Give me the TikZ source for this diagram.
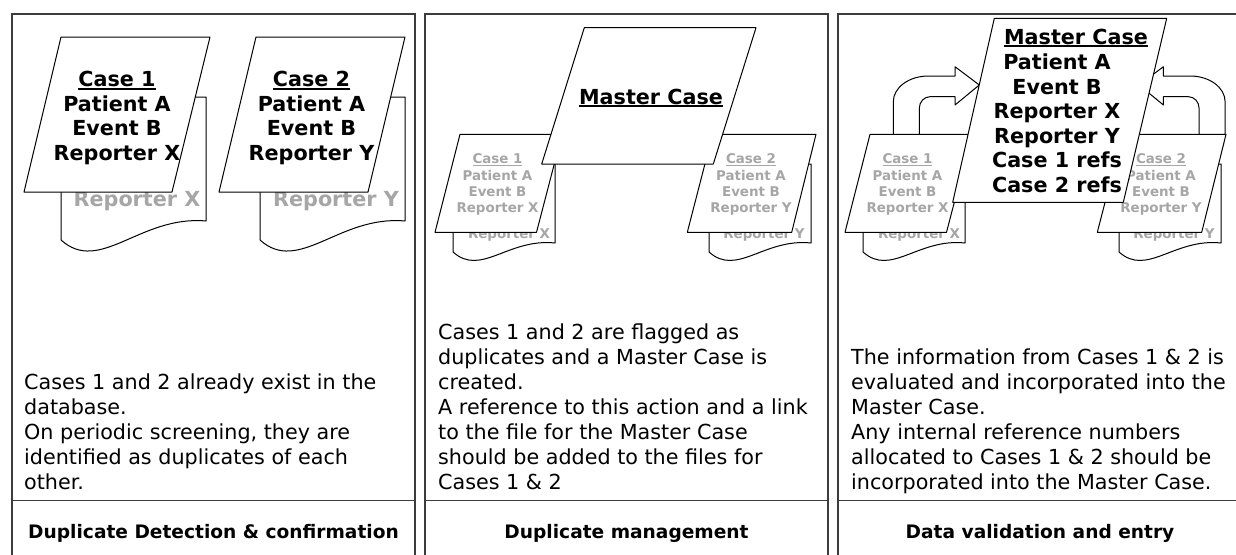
\documentclass[tikz,border=0pt]{standalone}
\usepackage{fontspec}
\setmainfont{DejaVu Sans}
\usepackage{tikz}
\definecolor{paleink}{RGB}{166,166,166}
\definecolor{frameink}{RGB}{60,60,60}
\newcommand{\casehead}[1]{\sbox0{#1}\rlap{\rule[-0.14em]{\wd0}{0.075em}}\usebox0}
\tikzset{
	panel/.style={draw=frameink, line width=1.2pt},
	sheet/.style={draw=black, fill=white, line width=1pt, line join=round},
	bigbold/.style={font=\bfseries\fontsize{20.7}{24.5}\selectfont, align=center, inner sep=0pt},
	smallbold/.style={font=\bfseries\fontsize{13.4}{16.2}\selectfont, text=paleink, align=center, inner sep=0pt},
	ghost/.style={bigbold, text=paleink},
	note/.style={font=\fontsize{20.7}{25}\selectfont, align=left, inner sep=0pt, anchor=south west},
	stepname/.style={font=\bfseries\fontsize{18.6}{22}\selectfont, inner sep=0pt, anchor=base}
}

\begin{document}
\begin{tikzpicture}[x=1pt, y=-1pt]
		\useasboundingbox (0,0) rectangle (1236,554);
		% frames
		\draw [panel] (12,600) -- (12,14) -- (415,14) -- (415,600);
		\draw [panel] (12,500.5) -- (415,500.5);
		\draw [panel] (425,600) -- (425,14) -- (828,14) -- (828,600);
		\draw [panel] (425,500.5) -- (828,500.5);
		\draw [panel] (838,600) -- (838,14) -- (1242,14) -- (1242,600);
		\draw [panel] (838,500.5) -- (1242,500.5);

		% detection
		\draw [sheet] (61,97) -- (206,97) -- (206,221) .. controls (140,215) and (100,275) .. (61,240) -- cycle;
		\node [ghost, anchor=base] (repX) at (137,206) {Reporter X};
		\draw [sheet] (260,97) -- (405,97) -- (405,221) .. controls (339,215) and (299,275) .. (260,240) -- cycle;
		\node [ghost, anchor=base] (repY) at (336,206) {Reporter Y};
		\draw [sheet] (61,37) -- (210,37) -- (172,192) -- (24,192) -- cycle;
		\node [bigbold] (caseA) at (117,118.5) {\strut\casehead{Case 1}\\Patient A\\Event B\\Reporter X\strut};
		\draw [sheet] (256,37) -- (405,37) -- (368,192) -- (219,192) -- cycle;
		\node [bigbold] (caseB) at (311.5,118.5) {\strut\casehead{Case 2}\\Patient A\\Event B\\Reporter Y\strut};

		% management
		\draw [sheet] (453,164) -- (555,164) -- (555,243) .. controls (508,238) and (481,277) .. (453,252) -- cycle;
		\node [smallbold, anchor=base] (repXm) at (509,238) {Reporter X};
		\draw [sheet] (709,164) -- (811,164) -- (811,243) .. controls (764,238) and (737,277) .. (709,252) -- cycle;
		\node [smallbold, anchor=base] (repYm) at (764,238) {Reporter Y};
		\draw [sheet] (460,134.3) -- (562,134.3) -- (536.5,232.3) -- (435,232.3) -- cycle;
		\node [smallbold] (caseAm) at (497.5,185) {\strut\casehead{Case 1}\\Patient A\\Event B\\Reporter X\strut};
		\draw [sheet] (712.6,134.3) -- (816,134.3) -- (791.7,232.3) -- (687.3,232.3) -- cycle;
		\node [smallbold] (caseBm) at (751,185) {\strut\casehead{Case 2}\\Patient A\\Event B\\Reporter Y\strut};
		\draw [sheet] (584.3,27.7) -- (756,27.7) -- (713.3,164) -- (541.7,164) -- cycle;
		\node [bigbold, anchor=base] (masterm) at (651,104) {\casehead{Master Case}};

		% entry
		\draw [sheet] (863,164) -- (965,164) -- (965,243) .. controls (918,238) and (891,277) .. (863,252) -- cycle;
		\node [smallbold, anchor=base] (repXe) at (919,238) {Reporter X};
		\draw [sheet] (1119,164) -- (1221,164) -- (1221,243) .. controls (1174,238) and (1147,277) .. (1119,252) -- cycle;
		\node [smallbold, anchor=base] (repYe) at (1174,238) {Reporter Y};
		\draw [sheet] (870,134.3) -- (972,134.3) -- (946.5,232.3) -- (845,232.3) -- cycle;
		\node [smallbold] (caseAe) at (907.5,185) {\strut\casehead{Case 1}\\Patient A\\Event B\\Reporter X\strut};
		\draw [sheet] (1122.6,134.3) -- (1226,134.3) -- (1201.7,232.3) -- (1097.3,232.3) -- cycle;
		\node [smallbold] (caseBe) at (1161,185) {\strut\casehead{Case 2}\\Patient A\\Event B\\Reporter Y\strut};
%		bent arrows into the master case
		\draw [sheet] (893.3,134.3) -- (893.3,101.7) .. controls (893.3,87.5) and (909,76) .. (928.3,76) -- (955,76) -- (955,66.7) -- (979.3,85) -- (955,105) -- (955,96.7) -- (930,96.7) .. controls (924.1,96.7) and (919.3,101.9) .. (919.3,108.3) -- (919.3,134.3) -- cycle;
		\draw [sheet] (1225.1,134.3) -- (1225.1,101.7) .. controls (1225.1,87.5) and (1209.4,76) .. (1190.1,76) -- (1163.4,76) -- (1163.4,66.7) -- (1139.1,85) -- (1163.4,105) -- (1163.4,96.7) -- (1188.4,96.7) .. controls (1194.3,96.7) and (1199.1,101.9) .. (1199.1,108.3) -- (1199.1,134.3) -- cycle;
		\draw [sheet] (994.3,18.3) -- (1166.7,18.3) -- (1123.3,202.3) -- (952.7,202.3) -- cycle;
		\node [bigbold, anchor=base] (mastere) at (1076,44) {\casehead{Master Case}};
		\node [bigbold] (merged) at (1057,126.3) {\strut Patient A\\Event B\\Reporter X\\Reporter Y\\Case 1 refs\\Case 2 refs\strut};

		% notes and step names
		\node [note] (note1) at (24,497.5) {Cases 1 and 2 already exist in the\\database.\\On periodic screening, they are\\identified as duplicates of each\\other.\strut};
		\node [note] (note2) at (438,497.5) {Cases 1 and 2 are flagged as\\duplicates and a Master Case is\\created.\\A reference to this action and a link\\to the file for the Master Case\\should be added to the files for\\Cases 1 \& 2\strut};
		\node [note] (note3) at (851,497.5) {The information from Cases 1 \& 2 is\\evaluated and incorporated into the\\Master Case.\\Any internal reference numbers\\allocated to Cases 1 \& 2 should be\\incorporated into the Master Case.\strut};
		\node [stepname] (step1) at (213.5,538) {Duplicate Detection \& confirmation};
		\node [stepname] (step2) at (626.5,538) {Duplicate management};
		\node [stepname] (step3) at (1040,538) {Data validation and entry};
\end{tikzpicture}
\end{document}
